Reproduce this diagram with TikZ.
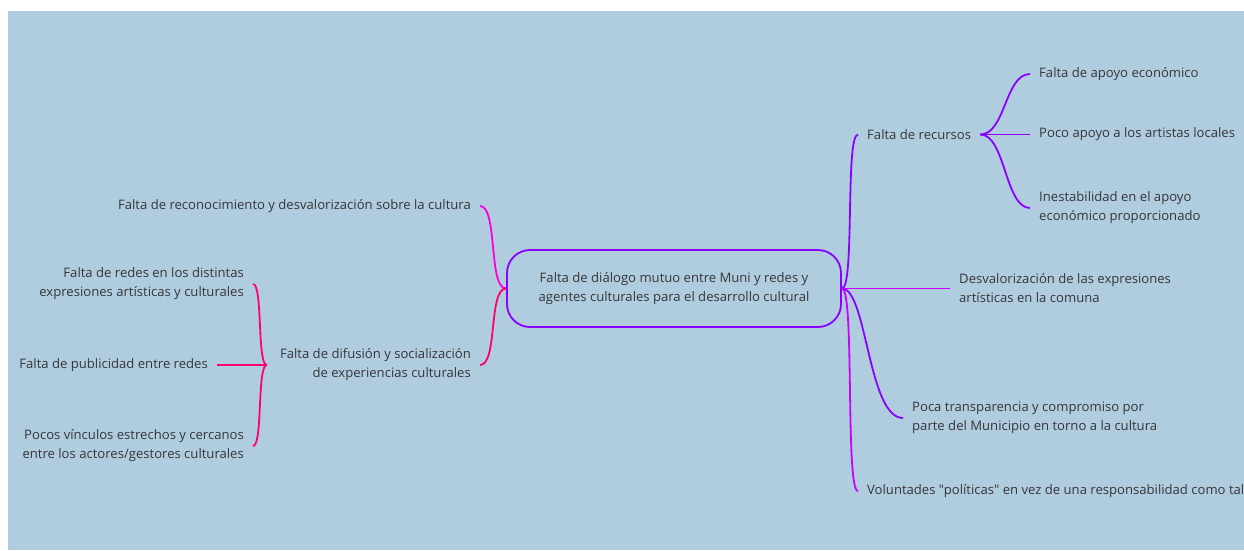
\documentclass[tikz,border=0pt]{standalone}
\usepackage{fontspec}
\setmainfont{Open Sans}[Ligatures=TeXOff]
\usetikzlibrary{shapes,positioning}

\definecolor{fondo}{RGB}{176,205,224}
\definecolor{texto}{RGB}{54,54,54}
\definecolor{violeta}{RGB}{140,0,255}
\definecolor{lila}{RGB}{204,0,255}
\definecolor{rosa}{RGB}{255,0,220}
\definecolor{fucsia}{RGB}{255,0,110}

\begin{document}
\begin{tikzpicture}[x=1pt,y=-1pt]
\tikzstyle{every node}+=[inner xsep=9pt, inner ysep=0pt, text=texto, font=\fontsize{13.1}{19}\selectfont]
\tikzstyle{rama}=[line width=1.8pt]
\useasboundingbox (0,0) rectangle (1244,550);
\fill [fondo] (8,11) rectangle (1244,550);
\clip (8,11) rectangle (1244,550);
% idea central
\node [draw=violeta, line width=1.8pt, rounded corners=23pt, minimum width=334pt, minimum height=77pt, align=center] (centro) at (674,288.5) {Falta de diálogo mutuo entre Muni y redes y\\agentes culturales para el desarrollo cultural};
% lado derecho
\node [anchor=west] (recursos) at (858,134.5) {Falta de recursos};
\node [anchor=west, align=left] (desval) at (950,288.5) {Desvalorización de las expresiones\\artísticas en la comuna};
\node [anchor=west, align=left] (transp) at (903,418) {Poca transparencia y compromiso por\\parte del Municipio en torno a la cultura};
\node [anchor=west] (voluntad) at (858,491) {Voluntades "políticas" en vez de una responsabilidad como tal};
\node [anchor=west] (apoyo) at (1030,74) {Falta de apoyo económico};
\node [anchor=west] (artistas) at (1030,134.5) {Poco apoyo a los artistas locales};
\node [anchor=west, align=left] (inestab) at (1030,208) {Inestabilidad en el apoyo\\económico proporcionado};
% lado izquierdo
\node [anchor=east] (reconoc) at (480,206) {Falta de reconocimiento y desvalorización sobre la cultura};
\node [anchor=east, align=right] (difusion) at (480,365) {Falta de difusión y socialización\\de experiencias culturales};
\node [anchor=east, align=right] (redes) at (253,284) {Falta de redes en los distintas\\expresiones artísticas y culturales};
\node [anchor=east] (publicidad) at (217,365) {Falta de publicidad entre redes};
\node [anchor=east, align=right] (vinculos) at (253,446) {Pocos vínculos estrechos y cercanos\\entre los actores/gestores culturales};
\coordinate (jb) at ([xshift=-4pt]difusion.west);
% conexiones
\draw [rama, violeta] (centro.east) .. controls +(13,0) and +(-13,0) .. (recursos.west);
\draw [rama, lila] (centro.east) -- (desval.west);
\draw [rama, violeta] (centro.east) .. controls +(25,0) and +(-35,0) .. (transp.west);
\draw [rama, lila] (centro.east) .. controls +(13,0) and +(-13,0) .. (voluntad.west);
\draw [rama, violeta] (recursos.east) .. controls +(25,0) and +(-25,0) .. (apoyo.west);
\draw [rama, violeta] (recursos.east) -- (artistas.west);
\draw [rama, violeta] (recursos.east) .. controls +(25,0) and +(-25,0) .. (inestab.west);
\draw [rama, rosa] (centro.west) .. controls +(-18,0) and +(18,0) .. (reconoc.east);
\draw [rama, fucsia] (centro.west) .. controls +(-18,0) and +(18,0) .. (difusion.east);
\draw [rama, fucsia] (jb) .. controls +(-10,0) and +(10,0) .. (redes.east);
\draw [rama, fucsia] (jb) -- (publicidad.east);
\draw [rama, fucsia] (jb) .. controls +(-10,0) and +(10,0) .. (vinculos.east);
\end{tikzpicture}
\end{document}
